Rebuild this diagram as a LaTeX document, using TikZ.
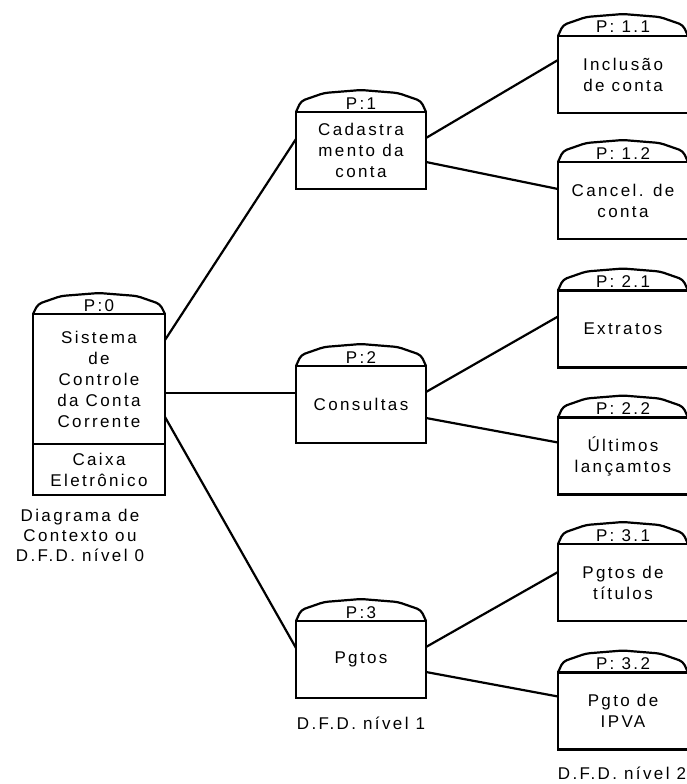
\documentclass[tikz,border=0pt]{standalone}
\usepackage{fontspec}
\setmainfont{Liberation Sans}[LetterSpace=14]
\usetikzlibrary{calc}
\newcommand\dfdfont{\fontsize{17}{21}\selectfont}
\newcommand\notefont{\fontsize{17}{20}\selectfont}
% cap drawn on top of a process box of width 130
\newcommand\proccap[1]{\draw[capline] (#1.north west) -- ++(5,-11) -- ++(23,-8) -- ++(37,-3) -- ++(37,3) -- ++(23,8) -- ++(5,11);}
\tikzset{
  x=1pt, y=-1pt,
  proc/.style={draw, line width=2.2pt, minimum width=130pt, minimum height=77pt,
    inner sep=0pt, outer sep=0pt, align=center, font=\dfdfont},
  capline/.style={line width=2.2pt, rounded corners=4pt},
  caplabel/.style={inner sep=0pt, anchor=base, font=\dfdfont},
  note/.style={inner sep=0pt, align=center, font=\notefont},
  flow/.style={line width=2.2pt},
}
\begin{document}
\begin{tikzpicture}
\useasboundingbox (0,0) rectangle (686,784);

% context level
\node[proc, minimum width=132pt, minimum height=130pt] (p0) at (99,379)
  {Sistema\\de\\Controle\\da Conta\\Corrente};
\node[proc, minimum width=132pt, minimum height=51pt] (p0b) at (99,469.5)
  {Caixa\\Eletrônico};
\draw[capline] (p0.north west) -- ++(5,-10) -- ++(23,-8) -- ++(38,-3) -- ++(38,3) -- ++(23,8) -- ++(5,10);
\node[caplabel] (p0l) at ($(p0.north)+(0,-3)$) {P:0};
\node[note] (n0) at (80,535) {Diagrama de\\Contexto ou\\D.F.D. nível 0};

% level 1
\node[proc] (p1) at (361,150.5) {Cadastra\\mento da\\conta};
\node[proc] (p2) at (361,404.5) {Consultas};
\node[proc] (p3) at (361,659.5) {Pgtos};
\node[note] (n1) at (361,723) {D.F.D. nível 1};

% level 2 (boxes run past the right border)
\node[proc] (p11) at (623,74.5) {Inclusão\\de conta};
\node[proc] (p12) at (623,200.5) {Cancel. de\\conta};
\node[proc] (p21) at (623,329) {Extratos};
\node[proc] (p22) at (623,456) {Últimos\\lançamtos};
\node[proc] (p31) at (623,582.5) {Pgtos de\\títulos};
\node[proc] (p32) at (623,711) {Pgto de\\IPVA};
\node[note] (n2) at (622,773) {D.F.D. nível 2};

% caps and their labels
\foreach \n/\t in {p1/P:1, p2/P:2, p3/P:3, p11/P: 1.1, p12/P: 1.2, p21/P: 2.1, p22/P: 2.2, p31/P: 3.1, p32/P: 3.2} {
  \proccap{\n}
  \node[caplabel] (\n l) at ($(\n.north)+(0,-3)$) {\t};
}

% decomposition links
\draw[flow] ($(p0.north east)+(0,26)$) -- ($(p1.north west)+(0,27)$);
\draw[flow] ($(p0.north east)+(0,79)$) -- ($(p2.north west)+(0,27)$);
\draw[flow] ($(p0.north east)+(0,103)$) -- ($(p3.north west)+(0,27)$);

\draw[flow] ($(p1.north east)+(0,26)$) -- ($(p11.north west)+(0,24)$);
\draw[flow] ($(p1.north east)+(0,50)$) -- ($(p12.north west)+(0,27)$);
\draw[flow] ($(p2.north east)+(0,26)$) -- ($(p21.north west)+(0,26)$);
\draw[flow] ($(p2.north east)+(0,52)$) -- ($(p22.north west)+(0,25)$);
\draw[flow] ($(p3.north east)+(0,26)$) -- ($(p31.north west)+(0,28)$);
\draw[flow] ($(p3.north east)+(0,51)$) -- ($(p32.north west)+(0,24)$);
\end{tikzpicture}
\end{document}
